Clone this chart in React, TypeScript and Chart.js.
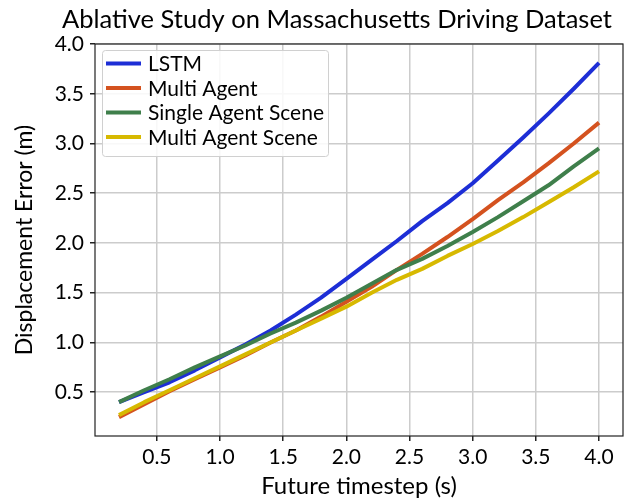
import React, { useEffect, useRef } from "react";
import { Chart, registerables } from "chart.js";

Chart.register(...registerables);

const TITLE = "Ablative Study on Massachusetts Driving Dataset";
const X_LABEL = "Future timestep (s)";
const Y_LABEL = "Displacement Error (m)";

const TIMESTEPS = [0.2, 0.4, 0.6, 0.8, 1.0, 1.2, 1.4, 1.6, 1.8, 2.0, 2.2, 2.4, 2.6, 2.8, 3.0, 3.2, 3.4, 3.6, 3.8, 4.0];
const LSTM = [0.40, 0.50, 0.60, 0.72, 0.85, 0.98, 1.12, 1.28, 1.45, 1.64, 1.83, 2.02, 2.22, 2.40, 2.60, 2.83, 3.06, 3.30, 3.55, 3.81];
const MULTI_AGENT = [0.25, 0.38, 0.51, 0.63, 0.75, 0.87, 1.00, 1.12, 1.26, 1.41, 1.56, 1.73, 1.89, 2.06, 2.24, 2.43, 2.61, 2.80, 3.00, 3.21];
const SINGLE_AGENT_SCENE = [0.40, 0.52, 0.63, 0.75, 0.86, 0.97, 1.09, 1.20, 1.32, 1.45, 1.59, 1.73, 1.84, 1.97, 2.11, 2.26, 2.42, 2.58, 2.77, 2.95];
const MULTI_AGENT_SCENE = [0.27, 0.40, 0.52, 0.64, 0.76, 0.88, 1.00, 1.12, 1.24, 1.36, 1.50, 1.63, 1.74, 1.87, 1.99, 2.12, 2.26, 2.41, 2.56, 2.72];

const SERIES_NAMES = ["LSTM", "Multi Agent", "Single Agent Scene", "Multi Agent Scene"];
const SERIES_VALUES = [LSTM, MULTI_AGENT, SINGLE_AGENT_SCENE, MULTI_AGENT_SCENE];
const SERIES_COLORS = ["#1d2ed6", "#d4521f", "#3f7f4b", "#d7b900"];

const X_TICKS = [0.5, 1.0, 1.5, 2.0, 2.5, 3.0, 3.5, 4.0];
const Y_TICKS = [0.5, 1.0, 1.5, 2.0, 2.5, 3.0, 3.5, 4.0];
const X_MIN = 0.01, X_MAX = 4.19;
const Y_MIN = 0.06, Y_MAX = 4.0;

const FONT = "Lato, 'DejaVu Sans', sans-serif";

const overlayPlugin = {
  id: "overlay",
  afterDatasetsDraw(chart: any) {
    const ctx = chart.ctx;
    const a = chart.chartArea;
    ctx.save();
    // frame
    ctx.strokeStyle = "#222";
    ctx.lineWidth = 1.2;
    ctx.strokeRect(a.left, a.top, a.right - a.left, a.bottom - a.top);
    // legend
    const lx = 102.5, ly = 50.5, lw = 226, lh = 106;
    ctx.beginPath();
    const r = 3;
    ctx.moveTo(lx + r, ly);
    ctx.lineTo(lx + lw - r, ly);
    ctx.quadraticCurveTo(lx + lw, ly, lx + lw, ly + r);
    ctx.lineTo(lx + lw, ly + lh - r);
    ctx.quadraticCurveTo(lx + lw, ly + lh, lx + lw - r, ly + lh);
    ctx.lineTo(lx + r, ly + lh);
    ctx.quadraticCurveTo(lx, ly + lh, lx, ly + lh - r);
    ctx.lineTo(lx, ly + r);
    ctx.quadraticCurveTo(lx, ly, lx + r, ly);
    ctx.closePath();
    ctx.fillStyle = "rgba(255,255,255,0.85)";
    ctx.fill();
    ctx.strokeStyle = "#d0d0d0";
    ctx.lineWidth = 1;
    ctx.stroke();
    ctx.font = `21px ${FONT}`;
    ctx.textBaseline = "middle";
    ctx.textAlign = "left";
    chart.data.datasets.forEach((ds: any, i: number) => {
      const y = 63.5 + i * 24.5;
      ctx.strokeStyle = ds.borderColor;
      ctx.lineWidth = 4;
      ctx.lineCap = "butt";
      ctx.beginPath();
      ctx.moveTo(106, y);
      ctx.lineTo(141, y);
      ctx.stroke();
      ctx.fillStyle = "#000";
      ctx.fillText(ds.label, 148, y + 1);
    });
    // title
    ctx.font = `25.5px ${FONT}`;
    ctx.textAlign = "center";
    ctx.textBaseline = "alphabetic";
    ctx.fillStyle = "#000";
    ctx.fillText(TITLE, 337, 28);
    ctx.restore();
  },
};

export default function App() {
  const ref = useRef<HTMLCanvasElement | null>(null);
  useEffect(() => {
    if (!ref.current) return;
    const datasets = SERIES_NAMES.map((name, i) => ({
      label: name,
      data: TIMESTEPS.map((t, j) => ({ x: t, y: SERIES_VALUES[i][j] })),
      borderColor: SERIES_COLORS[i],
      backgroundColor: SERIES_COLORS[i],
      borderWidth: 4,
      pointRadius: 0,
      tension: 0,
      fill: false,
      borderJoinStyle: "round" as const,
      order: SERIES_NAMES.length - i,
    }));
    const chart = new Chart(ref.current, {
      type: "line",
      data: { datasets },
      plugins: [overlayPlugin],
      options: {
        responsive: false,
        animation: false,
        layout: { padding: { left: 0, right: 14, top: 44, bottom: 0 } },
        plugins: { legend: { display: false }, title: { display: false }, tooltip: { enabled: false } },
        scales: {
          x: {
            type: "linear",
            min: X_MIN,
            max: X_MAX,
            afterBuildTicks: (s: any) => { s.ticks = X_TICKS.map((v) => ({ value: v })); },
            afterFit: (s: any) => { s.height = 67; },
            grid: { color: "#cccccc", lineWidth: 1.5, tickLength: 5, tickColor: "#222" },
            border: { display: false },
            ticks: { color: "#000", font: { size: 21, family: FONT }, padding: 4, maxRotation: 0, callback: (v: any) => Number(v).toFixed(1) },
            title: { display: true, text: X_LABEL, color: "#000", font: { size: 24, family: FONT }, padding: { top: 0, bottom: 2 } },
          },
          y: {
            type: "linear",
            min: Y_MIN,
            max: Y_MAX,
            afterBuildTicks: (s: any) => { s.ticks = Y_TICKS.map((v) => ({ value: v })); },
            afterFit: (s: any) => { s.width = 95; },
            grid: { color: "#cccccc", lineWidth: 1.5, tickLength: 5, tickColor: "#222" },
            border: { display: false },
            ticks: { color: "#000", font: { size: 21, family: FONT }, padding: 6, callback: (v: any) => Number(v).toFixed(1) },
            title: { display: true, text: Y_LABEL, color: "#000", font: { size: 23, family: FONT }, padding: { top: 11, bottom: 0 } },
          },
        },
      },
    });
    return () => chart.destroy();
  }, []);
  return (
    <div style={{ position: "fixed", left: 0, top: 0, width: 637, height: 503, background: "#fff" }}>
      <canvas ref={ref} width={637} height={503} style={{ display: "block" }} />
    </div>
  );
}
